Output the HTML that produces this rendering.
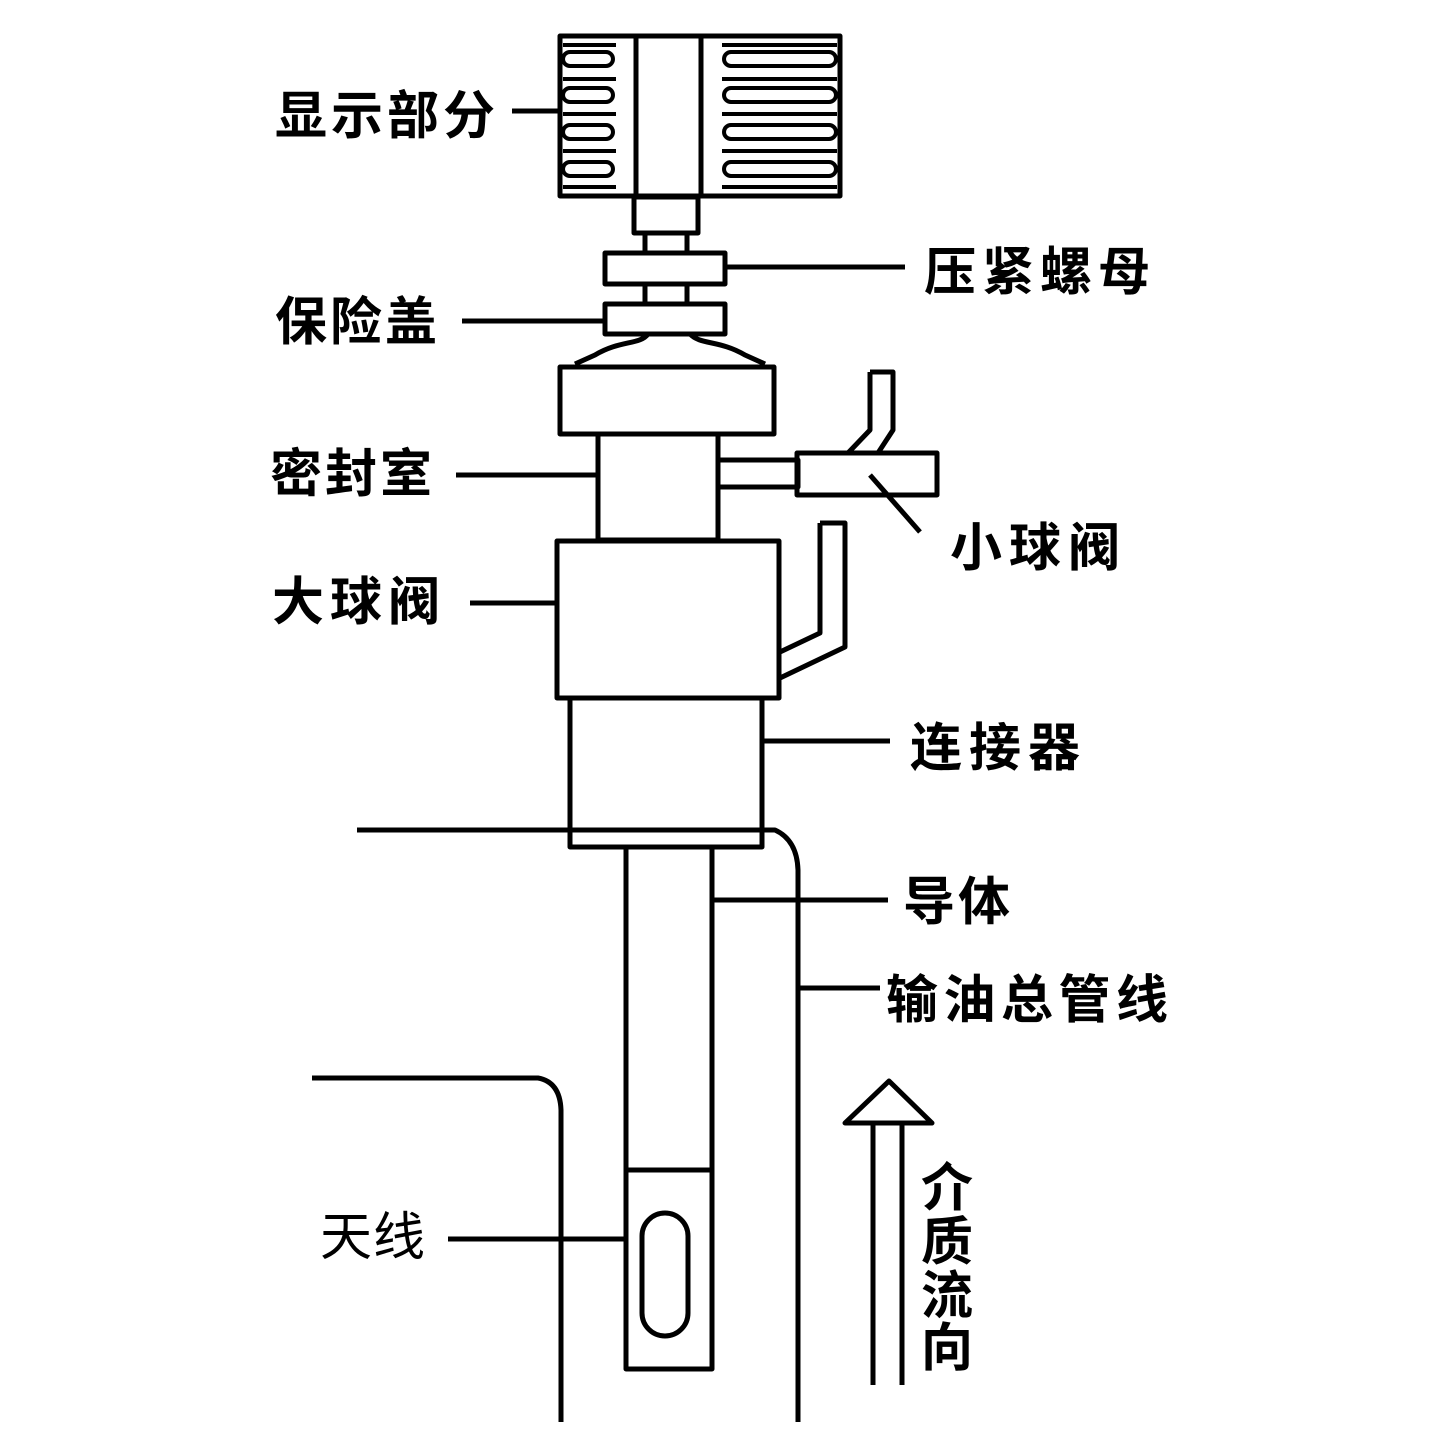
<!DOCTYPE html>
<html><head><meta charset="utf-8"><style>html,body{margin:0;padding:0;background:#fff}svg{display:block}</style></head>
<body>
<svg width="1440" height="1440" viewBox="0 0 1440 1440" xmlns="http://www.w3.org/2000/svg">
<rect width="1440" height="1440" fill="#fff"/>
<g fill="none" stroke="#000" stroke-width="5" stroke-linejoin="round">
<!-- display -->
<rect x="560" y="36" width="280" height="160"/>
<line x1="636" y1="36" x2="636" y2="196"/>
<line x1="701" y1="36" x2="701" y2="196"/>
<g stroke-width="4">
<rect x="563" y="52" width="50" height="14" rx="7"/>
<rect x="563" y="88" width="50" height="14" rx="7"/>
<rect x="563" y="125" width="50" height="14" rx="7"/>
<rect x="563" y="162" width="50" height="14" rx="7"/>
<line x1="563" y1="45" x2="616" y2="45"/><line x1="563" y1="79" x2="616" y2="79"/><line x1="563" y1="114" x2="616" y2="114"/><line x1="563" y1="151" x2="616" y2="151"/><line x1="563" y1="187" x2="616" y2="187"/>
<rect x="724" y="52" width="112" height="14" rx="7"/>
<rect x="724" y="88" width="112" height="14" rx="7"/>
<rect x="724" y="125" width="112" height="14" rx="7"/>
<rect x="724" y="162" width="112" height="14" rx="7"/>
<line x1="722" y1="45" x2="837" y2="45"/><line x1="722" y1="79" x2="837" y2="79"/><line x1="722" y1="114" x2="837" y2="114"/><line x1="722" y1="151" x2="837" y2="151"/><line x1="722" y1="187" x2="837" y2="187"/>
</g>
<rect x="634" y="197" width="64" height="36"/>
<rect x="645" y="233" width="42" height="20"/>
<rect x="605" y="253" width="120" height="31"/>
<rect x="645" y="284" width="42" height="20"/>
<rect x="605" y="304" width="120" height="30"/>
<path d="M648 334 C640 345 620 340 595 355 L575 364 M690 334 C700 345 720 340 745 355 L765 364"/>
<rect x="560" y="367" width="214" height="67"/>
<rect x="598" y="434" width="120" height="106"/>
<rect x="718" y="460" width="80" height="27"/>
<rect x="797" y="453" width="140" height="42"/>
<path d="M870 372 L893 372 L893 430 L878 453 M870 372 L870 430 L848 453"/>
<line x1="870" y1="475" x2="920" y2="532"/>
<rect x="557" y="541" width="222" height="157"/>
<path d="M820 523 L845 523 L845 647 L780 678 M820 523 L820 633 L780 652"/>
<rect x="570" y="698" width="192" height="132"/>
<rect x="570" y="830" width="192" height="17"/>
<line x1="357" y1="830" x2="570" y2="830"/>
<path d="M762 830 L775 830 Q797 840 798 870 L798 1422"/>
<rect x="626" y="847" width="86" height="522"/>
<line x1="626" y1="1170" x2="712" y2="1170"/>
<rect x="642" y="1213" width="46" height="123" rx="23"/>
<path d="M312 1078 L538 1078 Q560 1082 561 1110 L561 1422"/>
<line x1="873" y1="1125" x2="873" y2="1385"/>
<line x1="902" y1="1125" x2="902" y2="1385"/>
<path d="M845 1123 L889 1081 L932 1123 Z"/>
<!-- leaders -->
<line x1="512" y1="111" x2="560" y2="111"/>
<line x1="725" y1="267" x2="905" y2="267"/>
<line x1="462" y1="321" x2="605" y2="321"/>
<line x1="456" y1="475" x2="598" y2="475"/>
<line x1="470" y1="603" x2="557" y2="603"/>
<line x1="762" y1="741" x2="890" y2="741"/>
<line x1="712" y1="900" x2="888" y2="900"/>
<line x1="798" y1="988" x2="880" y2="988"/>
<line x1="448" y1="1239" x2="626" y2="1239"/>
</g>
<g font-family="'Liberation Sans','Noto Sans CJK SC','WenQuanYi Zen Hei',sans-serif" font-size="52" font-weight="bold" fill="#000">
<text x="275" y="134" textLength="220" lengthAdjust="spacing">显示部分</text>
<text x="924" y="290" textLength="226" lengthAdjust="spacing">压紧螺母</text>
<text x="275" y="340" textLength="162" lengthAdjust="spacing">保险盖</text>
<text x="270" y="492" textLength="162" lengthAdjust="spacing">密封室</text>
<text x="950" y="566" textLength="170" lengthAdjust="spacing">小球阀</text>
<text x="272" y="620" textLength="168" lengthAdjust="spacing">大球阀</text>
<text x="910" y="766" textLength="170" lengthAdjust="spacing">连接器</text>
<text x="903" y="920" textLength="107" lengthAdjust="spacing">导体</text>
<text x="886" y="1018" textLength="282" lengthAdjust="spacing">输油总管线</text>
<text x="320" y="1255" font-weight="normal" textLength="105" lengthAdjust="spacing">天线</text>
<text x="921" y="1206">介</text>
<text x="921" y="1260">质</text>
<text x="921" y="1314">流</text>
<text x="921" y="1366">向</text>
</g>
</svg>
</body></html>
